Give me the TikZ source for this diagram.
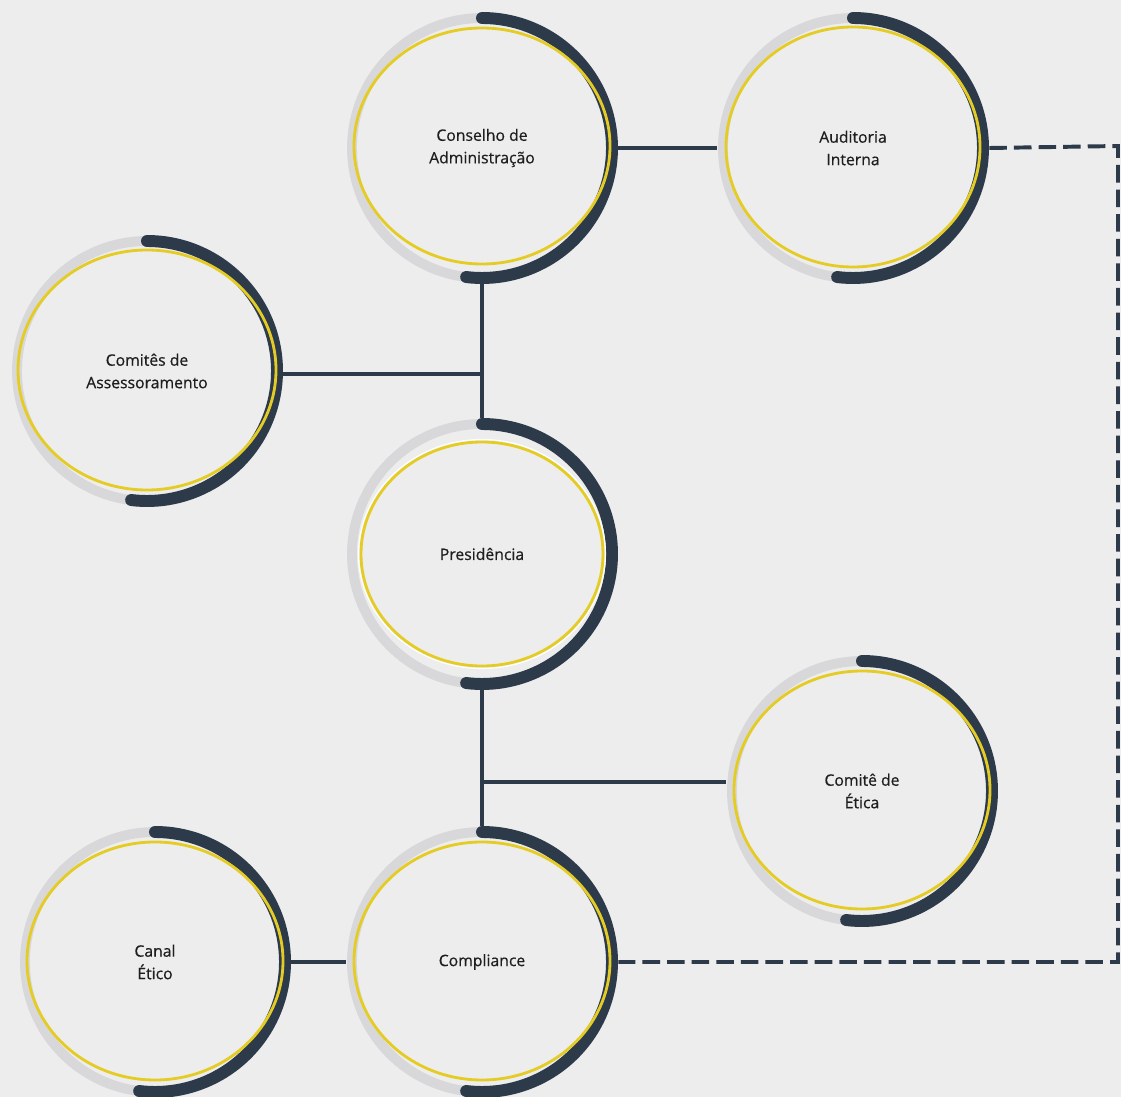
\documentclass[tikz,border=0pt]{standalone}
\usepackage{fontspec}
\setmainfont{Open Sans}
\newfontfamily\unitfont{Open Sans}[FakeBold=0.6]
\definecolor{bgcol}{HTML}{EDEDED}
\definecolor{ringdark}{HTML}{2C3A4A}
\definecolor{ringgray}{HTML}{D8D8DA}
\definecolor{ringyellow}{HTML}{E5CC25}
\definecolor{txtcol}{HTML}{1E1E1E}

\tikzset{
 graybase/.style={draw=ringgray, line width=7pt},
 darkarc/.style={draw=ringdark, line width=8.5pt, line cap=round},
 yellowline/.style={draw=ringyellow, line width=2pt},
 unit/.style={circle, minimum size=6.8cm, inner sep=0pt, align=center,
   font=\unitfont\fontsize{11.2}{16}\selectfont, text=txtcol},
 link/.style={draw=ringdark, line width=2.8pt},
 dashlink/.style={draw=ringdark, line width=2.8pt, dash pattern=on 12.5pt off 5pt},
}

% ring, dark arc, yellow ellipse and the named node
\newcommand{\orgunit}[6]{%
 \draw[graybase] (#2,#3) circle (130);
 \draw[darkarc] (#2,#3) ++(90:130) arc (90:-97:130);
 \draw[yellowline] (#2,#3+#6) ellipse (#5);
 \node[unit] (#1) at (#2,#3) {#4};
}

\begin{document}
\begin{tikzpicture}[x=0.025cm,y=0.025cm]
\fill[bgcol] (0,0) rectangle (1121,-1097);
\useasboundingbox (0,0) rectangle (1121,-1097);

%units
\orgunit{cons}{482}{-148}{Conselho de\\Administração}{128 and 118}{2}
\orgunit{aud}{853}{-148}{Auditoria\\Interna}{127 and 120}{1}
\orgunit{comit}{147}{-371}{Comitês de\\Assessoramento}{129 and 120}{1}
\orgunit{pres}{482}{-554}{Presidência}{121 and 112}{0}
\orgunit{etica}{862}{-791}{Comitê de\\Ética}{128 and 119}{1}
\orgunit{canal}{155}{-962}{Canal\\Ético}{128 and 119}{1}
\orgunit{compl}{482}{-962}{Compliance}{128 and 119}{1}
% white glint round the Presidência ellipse
\draw[white, line width=0.8pt] (482,-554) ellipse (123.5 and 114.5);

\coordinate (jtop) at (481,-374);
\coordinate (jbot) at (482,-782);
\coordinate (dcorner) at (1118,-146);

%solid links
\draw[link] (cons.east) -- (aud.west);
\draw[link] (cons.south) -- (pres.north);
\draw[link] (jtop -| comit.east) -- (jtop);
\draw[link] (pres.south) -- (compl.north);
\draw[link] (jbot) -- (jbot -| etica.west);
\draw[link] (canal.east) -- (compl.west);

%dashed link
\draw[dashlink] (aud.east) -- (dcorner) |- (compl.east);
\end{tikzpicture}
\end{document}
